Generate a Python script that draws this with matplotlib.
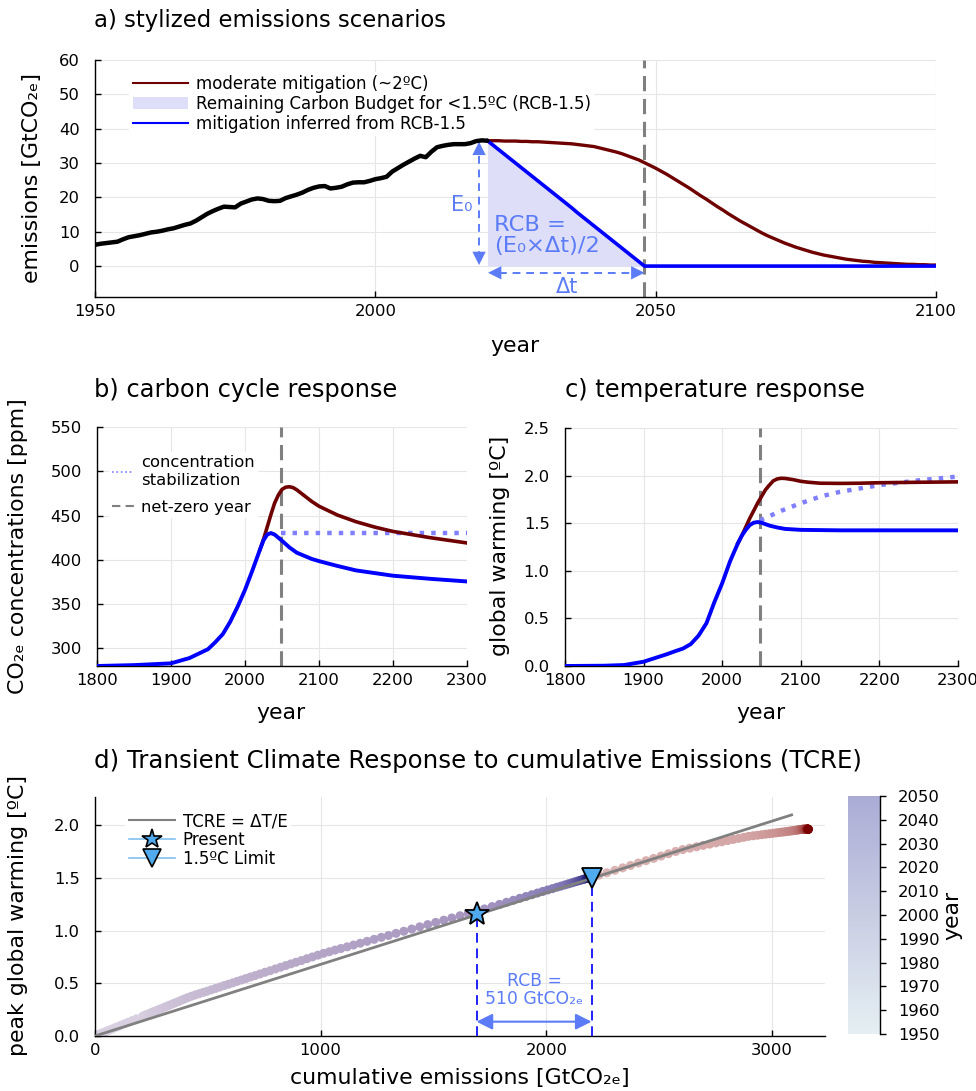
import numpy as np
import matplotlib
matplotlib.use("Agg")
import matplotlib.pyplot as plt
from matplotlib.colors import LinearSegmentedColormap, Normalize
from matplotlib.cm import ScalarMappable
from matplotlib.lines import Line2D
from matplotlib.patches import Patch

plt.rcParams['font.family'] = ['DejaVu Sans', 'Noto Sans']

W, H = 976, 1091

# ---------------- data ----------------
# a) emissions [GtCO2e / yr]
hist_years = np.arange(1950, 2021)
hist_emis = [6.2, 6.5, 6.7, 6.9, 7.1, 7.8, 8.4, 8.7, 9.0, 9.4,
             9.8, 10.0, 10.3, 10.7, 11.0, 11.5, 12.0, 12.4, 13.2, 14.2,
             15.2, 16.0, 16.7, 17.3, 17.2, 17.1, 18.2, 18.8, 19.4, 19.7,
             19.5, 19.0, 18.9, 19.0, 19.8, 20.3, 20.8, 21.4, 22.2, 22.8,
             23.2, 23.3, 22.6, 22.8, 23.1, 23.8, 24.3, 24.4, 24.4, 24.8,
             25.3, 25.6, 26.0, 27.5, 28.5, 29.5, 30.4, 31.3, 32.1, 31.7,
             33.3, 34.6, 35.0, 35.3, 35.5, 35.5, 35.5, 35.8, 36.4, 36.6,
             36.5]
mod_years = np.arange(2020, 2101)
mod_emis = [36.5, 36.5, 36.5, 36.4, 36.4, 36.4, 36.3, 36.3, 36.2, 36.2,
            36.1, 36.0, 35.9, 35.8, 35.7, 35.6, 35.4, 35.2, 35.0, 34.8,
            34.4, 34.0, 33.6, 33.2, 32.7, 32.1, 31.5, 30.9, 30.1, 29.3,
            28.5, 27.6, 26.7, 25.7, 24.7, 23.7, 22.7, 21.6, 20.5, 19.5,
            18.4, 17.3, 16.3, 15.2, 14.2, 13.2, 12.3, 11.4, 10.5, 9.6,
            8.8, 8.1, 7.4, 6.7, 6.1, 5.5, 5.0, 4.5, 4.0, 3.6,
            3.2, 2.9, 2.6, 2.3, 2.0, 1.8, 1.6, 1.4, 1.3, 1.1,
            1.0, 0.9, 0.8, 0.7, 0.6, 0.5, 0.5, 0.4, 0.4, 0.3, 0.3]
rcb_years = np.arange(2020, 2049)
rcb_emis = [36.5, 35.2, 33.9, 32.6, 31.3, 30.0, 28.7, 27.4, 26.1, 24.8,
            23.5, 22.2, 20.9, 19.6, 18.3, 17.0, 15.6, 14.3, 13.0, 11.7,
            10.4, 9.1, 7.8, 6.5, 5.2, 3.9, 2.6, 1.3, 0.0]
netzero_year = 2048

# b) CO2e concentrations [ppm]
conc_years = [1800, 1850, 1900, 1925, 1950, 1960, 1970, 1980, 1990, 2000,
              2010, 2020, 2025, 2030, 2035, 2040, 2045, 2050, 2060, 2070,
              2080, 2090, 2100, 2125, 2150, 2175, 2200, 2250, 2300]
conc_rcb = [280, 281, 283, 289, 299, 307, 316, 330, 347, 366,
            388, 411, 422, 428.5, 430.2, 428.5, 425, 421.5, 414, 408,
            404.5, 401, 398.5, 393, 388, 385, 382, 378.5, 375.5]
conc_mod_years = [2020, 2025, 2030, 2035, 2040, 2045, 2050, 2055, 2060, 2065,
                  2070, 2080, 2090, 2100, 2125, 2150, 2175, 2200, 2250, 2300]
conc_mod = [411, 423, 437, 451, 464, 473, 479.5, 482, 482.5, 481.5,
            479, 472.5, 466, 460.5, 450.5, 443, 437, 432, 425, 419]
conc_stab_years = [2048, 2300]
conc_stab = [430.2, 430.2]

# c) global warming [ºC]
temp_years = [1800, 1850, 1875, 1900, 1915, 1930, 1940, 1950, 1960, 1970,
              1980, 1990, 2000, 2010, 2020, 2025, 2030, 2035, 2040, 2045,
              2050, 2055, 2060, 2070, 2080, 2100, 2150, 2200, 2250, 2300]
temp_rcb = [0.0, 0.003, 0.01, 0.045, 0.085, 0.125, 0.155, 0.183, 0.23, 0.32,
            0.45, 0.67, 0.87, 1.10, 1.29, 1.37, 1.43, 1.48, 1.505, 1.512,
            1.505, 1.49, 1.475, 1.455, 1.44, 1.43, 1.425, 1.425, 1.425, 1.425]
temp_mod_years = [2020, 2025, 2030, 2035, 2040, 2045, 2050, 2055, 2060, 2065,
                  2070, 2075, 2080, 2090, 2100, 2110, 2125, 2150, 2175, 2200,
                  2250, 2300]
temp_mod = [1.29, 1.37, 1.46, 1.55, 1.63, 1.71, 1.78, 1.85, 1.90, 1.945,
            1.965, 1.972, 1.97, 1.958, 1.94, 1.93, 1.92, 1.918, 1.92, 1.925,
            1.93, 1.934]
temp_stab_years = [2048, 2075, 2100, 2125, 2150, 2200, 2250, 2300]
temp_stab = [1.53, 1.63, 1.71, 1.78, 1.83, 1.90, 1.95, 1.99]

# d) TCRE
pre1950_cum = 205.0
early_years = np.arange(1850, 1950, 5)
early_cum = [0, 2, 4, 7, 10, 14, 19, 25, 32, 40,
             49, 60, 73, 87, 101, 116, 132, 148, 165, 184]
early_warm = [0.0, 0.002, 0.004, 0.006, 0.009, 0.012, 0.017, 0.022, 0.028, 0.035,
              0.043, 0.053, 0.065, 0.077, 0.089, 0.103, 0.117, 0.131, 0.146, 0.163]
hist_peak_warm = [0.187, 0.193, 0.199, 0.205, 0.211, 0.218, 0.226, 0.233, 0.241, 0.250,
                  0.258, 0.267, 0.276, 0.286, 0.295, 0.306, 0.316, 0.327, 0.339, 0.352,
                  0.365, 0.378, 0.390, 0.402, 0.414, 0.425, 0.438, 0.451, 0.465, 0.479,
                  0.492, 0.505, 0.519, 0.532, 0.546, 0.560, 0.574, 0.589, 0.605, 0.620,
                  0.637, 0.653, 0.669, 0.685, 0.701, 0.717, 0.734, 0.751, 0.768, 0.785,
                  0.800, 0.816, 0.831, 0.847, 0.864, 0.881, 0.899, 0.918, 0.937, 0.955,
                  0.975, 0.995, 1.016, 1.037, 1.058, 1.079, 1.100, 1.121, 1.142, 1.164,
                  1.185]
rcb_peak_warm = [1.207, 1.229, 1.250, 1.270, 1.289, 1.308, 1.325, 1.342, 1.358, 1.373,
                 1.387, 1.400, 1.413, 1.424, 1.435, 1.445, 1.454, 1.463, 1.470, 1.477,
                 1.483, 1.488, 1.492, 1.495, 1.497, 1.499, 1.500, 1.500]
mod_dot_first = 2034
mod_peak_warm = [1.503, 1.527, 1.550, 1.574, 1.597, 1.620, 1.643, 1.665, 1.687, 1.709,
                 1.731, 1.753, 1.771, 1.784, 1.797, 1.810, 1.822, 1.834, 1.845, 1.856,
                 1.867, 1.877, 1.887, 1.896, 1.902, 1.907, 1.912, 1.917, 1.921, 1.925,
                 1.929, 1.933, 1.936, 1.939, 1.942, 1.945, 1.947, 1.950, 1.952, 1.954,
                 1.956, 1.958, 1.960, 1.961, 1.962, 1.963, 1.964] + [1.964] * 20
present_warm = 1.16
limit_warm = 1.50
rcb_budget = 510
tcre_cum = [0, 3087]
tcre_warm = [0, 2.10]

# ---------------- colours ----------------
C_RED = '#6e0000'
C_BLUE = '#0000ff'
C_ANN = '#5b7cf6'
C_GRAY = '#808080'
C_STAB = '#8080ff'
C_FILL = '#dedef9'
C_MARK = '#50aaee'

FS_TICK = 11.8
FS_LAB = 15.8
FS_LEG = 12.0

# ---------------- derived cumulative emissions ----------------
hist_cum = pre1950_cum + np.cumsum(hist_emis)
rcb_cum = hist_cum[-1] + np.cumsum(rcb_emis[1:])
mod_cum = hist_cum[-1] + np.cumsum(mod_emis[1:])
sel = mod_years[1:] >= mod_dot_first
present_cum = hist_cum[-1]
limit_cum = present_cum + rcb_budget

dots_years = np.concatenate([early_years, hist_years, rcb_years[1:]])
dots_cum = np.concatenate([early_cum, hist_cum, rcb_cum])
dots_warm = np.concatenate([early_warm, hist_peak_warm, rcb_peak_warm])


def fx(px):
    return px / W


def fy(py):
    return 1 - py / H


def style(ax):
    for s in ['top', 'right']:
        ax.spines[s].set_visible(False)
    for s in ['left', 'bottom']:
        ax.spines[s].set_linewidth(1.0)
    ax.grid(True, color='#e6e6e6', lw=0.8)
    ax.set_axisbelow(True)
    ax.tick_params(direction='in', length=4, labelsize=FS_TICK, width=1)
    ax.tick_params(axis='x', pad=5)
    ax.tick_params(axis='y', pad=11)


fig = plt.figure(figsize=(W / 100, H / 100), dpi=100)

# ================= a) =================
ax_a = fig.add_axes([fx(95), fy(297), fx(936 - 95), (297 - 60) / H])
style(ax_a)
ax_a.fill_between(rcb_years, rcb_emis, 0, color=C_FILL, lw=0, zorder=1)
ax_a.axvline(netzero_year, color=C_GRAY, lw=2.2, ls=(0, (5, 2.5)), zorder=2)
ax_a.plot(mod_years, mod_emis, color=C_RED, lw=2.4, zorder=3)
ax_a.plot(np.append(rcb_years, 2100), np.append(rcb_emis, 0.0),
          color=C_BLUE, lw=2.6, zorder=4)
ax_a.plot(hist_years, hist_emis, color='black', lw=3.2, zorder=5,
          solid_capstyle='round')

# annotation arrows
x_e0 = 2018.5
ax_a.plot([x_e0, x_e0], [2, 34], color=C_ANN, lw=1.4, ls=(0, (4, 3)))
for y0, y1 in [(30, 36.2), (6, 0.3)]:
    ax_a.annotate('', xy=(x_e0, y1), xytext=(x_e0, y0),
                  arrowprops=dict(arrowstyle='-|>', mutation_scale=24,
                                  color=C_ANN, lw=0, shrinkA=0, shrinkB=0))
y_dt = -1.95
ax_a.plot([2022, 2046], [y_dt, y_dt], color=C_ANN, lw=1.4, ls=(0, (4, 3)))
for x0, x1 in [(2025, 2020.1), (2043, netzero_year)]:
    ax_a.annotate('', xy=(x1, y_dt), xytext=(x0, y_dt),
                  arrowprops=dict(arrowstyle='-|>', mutation_scale=24,
                                  color=C_ANN, lw=0, shrinkA=0, shrinkB=0))
ax_a.text(2017.4, 17.8, 'E₀', color=C_ANN, fontsize=15, ha='right', va='center')
ax_a.text(2021.2, 8.8, 'RCB =\n(E₀×Δt)/2', color=C_ANN, fontsize=16.2,
          ha='left', va='center', linespacing=1.05)
ax_a.text(2034.1, -6.0, 'Δt', color=C_ANN, fontsize=15, ha='center', va='center')

ax_a.set_xlim(1950, 2100)
ax_a.set_ylim(-9, 60)
ax_a.set_xticks([1950, 2000, 2050, 2100])
ax_a.set_yticks(range(0, 61, 10))
leg_a = [Line2D([], [], color=C_RED, lw=1.5),
         Patch(facecolor=C_FILL, edgecolor='none'),
         Line2D([], [], color=C_BLUE, lw=1.5)]
ax_a.legend(leg_a, ['moderate mitigation (~2ºC)',
                    'Remaining Carbon Budget for <1.5ºC (RCB-1.5)',
                    'mitigation inferred from RCB-1.5'],
            loc='upper left', bbox_to_anchor=(0.031, 0.985), fontsize=FS_LEG,
            frameon=True, facecolor='white', edgecolor='none', framealpha=1,
            handlelength=3.3, handletextpad=0.5, labelspacing=0.1,
            borderpad=0.2, fancybox=False)

# ================= b) =================
ax_b = fig.add_axes([fx(97), fy(666), fx(467 - 97), (666 - 427) / H])
style(ax_b)
ax_b.axvline(netzero_year, color=C_GRAY, lw=2.2, ls=(0, (5, 2.5)), zorder=2)
ax_b.plot(conc_stab_years, conc_stab, color=C_STAB, lw=3.2, ls=(0, (1, 1.6)), zorder=3)
ax_b.plot(conc_mod_years, conc_mod, color=C_RED, lw=2.6, zorder=4)
ax_b.plot(conc_years, conc_rcb, color=C_BLUE, lw=2.8, zorder=5)
ax_b.set_xlim(1800, 2300)
ax_b.set_ylim(280, 550)
ax_b.set_xticks(range(1800, 2301, 100))
ax_b.set_yticks(range(300, 551, 50))
leg_b = [Line2D([], [], color=C_STAB, lw=1.2, ls=':'),
         Line2D([], [], color=C_GRAY, lw=1.5, ls=(0, (4, 2.5)))]
ax_b.legend(leg_b, ['concentration\nstabilization', 'net-zero year'],
            loc='upper left', bbox_to_anchor=(0.01, 0.93), fontsize=11.8,
            frameon=True, facecolor='white', edgecolor='none', framealpha=1,
            handlelength=1.35, handletextpad=0.4, labelspacing=0.75,
            borderpad=0.2, fancybox=False)

# ================= c) =================
ax_c = fig.add_axes([fx(565), fy(666), fx(958 - 565), (666 - 428) / H])
style(ax_c)
ax_c.axvline(netzero_year, color=C_GRAY, lw=2.2, ls=(0, (5, 2.5)), zorder=2)
ax_c.plot(temp_stab_years, temp_stab, color=C_STAB, lw=3.2, ls=(0, (1, 1.6)), zorder=3)
ax_c.plot(temp_mod_years, temp_mod, color=C_RED, lw=2.6, zorder=4)
ax_c.plot(temp_years, temp_rcb, color=C_BLUE, lw=2.8, zorder=5)
ax_c.set_xlim(1800, 2300)
ax_c.set_ylim(0, 2.5)
ax_c.set_xticks(range(1800, 2301, 100))
ax_c.set_yticks(np.arange(0, 2.51, 0.5))
ax_c.yaxis.set_major_formatter('{x:.1f}')

# ================= d) =================
ax_d = fig.add_axes([fx(95), fy(1036), fx(825 - 95), (1036 - 797) / H])
style(ax_d)
cm_rcb = LinearSegmentedColormap.from_list(
    'rcbdots', [(0, '#d8cfe0'), (0.45, '#b8a8c8'), (0.72, '#a595bf'),
                (0.87, '#7e74b3'), (1.0, '#1e1e78')])
cm_mod = LinearSegmentedColormap.from_list(
    'moddots', [(0, '#dcb6b6'), (0.35, '#d3a4a4'), (0.6, '#c07c7c'),
                (0.8, '#a03a3a'), (1.0, '#7a0000')])
ax_d.scatter(mod_cum[sel], mod_peak_warm, c=mod_years[1:][sel], cmap=cm_mod,
             vmin=mod_dot_first, vmax=2100, s=42, lw=0, zorder=2)
ax_d.scatter(dots_cum, dots_warm, c=dots_years, cmap=cm_rcb,
             vmin=1950, vmax=netzero_year, s=42, lw=0, zorder=2)
ax_d.plot(tcre_cum, tcre_warm, color=C_GRAY, lw=2.0, zorder=3)
ax_d.plot([present_cum, present_cum], [0, present_warm], color='#2020ff',
          lw=1.4, ls=(0, (5, 3)), zorder=3)
ax_d.plot([limit_cum, limit_cum], [0, limit_warm], color='#2020ff',
          lw=1.4, ls=(0, (5, 3)), zorder=3)
ax_d.annotate('', xy=(present_cum, 0.136), xytext=(limit_cum, 0.136),
              arrowprops=dict(arrowstyle='<|-|>', mutation_scale=24, color=C_ANN,
                              lw=1.5, shrinkA=0, shrinkB=0), zorder=4)
ax_d.text((present_cum + limit_cum) / 2, 0.44, 'RCB =\n%d GtCO₂ₑ' % rcb_budget,
          color=C_ANN, fontsize=12.4, ha='center', va='center', linespacing=1.0)
ax_d.plot(present_cum, present_warm, marker='*', ms=18, mfc=C_MARK, mec='black',
          mew=1.3, ls='none', zorder=6)
ax_d.plot(limit_cum, limit_warm, marker='v', ms=15, mfc=C_MARK, mec='black',
          mew=1.3, ls='none', zorder=6)
ax_d.set_xlim(0, 3235)
ax_d.set_ylim(0, 2.27)
ax_d.set_xticks([0, 1000, 2000, 3000])
ax_d.set_yticks(np.arange(0, 2.01, 0.5))
ax_d.yaxis.set_major_formatter('{x:.1f}')
leg_d = [Line2D([], [], color=C_GRAY, lw=1.5),
         Line2D([], [], color='#80c0f0', lw=1.2, marker='*', ms=15,
                mfc=C_MARK, mec='black', mew=1.2),
         Line2D([], [], color='#80c0f0', lw=1.2, marker='v', ms=13,
                mfc=C_MARK, mec='black', mew=1.2)]
ax_d.legend(leg_d, ['TCRE = ΔT/E', 'Present', '1.5ºC Limit'],
            loc='upper left', bbox_to_anchor=(0.03, 0.985), fontsize=FS_LEG,
            frameon=True, facecolor='white', edgecolor='none', framealpha=1,
            handlelength=2.8, handletextpad=0.45, labelspacing=0.05,
            borderpad=0.2, fancybox=False)

# colorbar (year)
cax = fig.add_axes([fx(848), fy(1034), fx(880 - 848), (1034 - 796) / H])
cb_cmap = LinearSegmentedColormap.from_list('cb', ['#e5eff3', '#c9cde3', '#abacd6'])
cbar = fig.colorbar(ScalarMappable(norm=Normalize(1950, 2050), cmap=cb_cmap),
                    cax=cax, ticks=range(1950, 2051, 10))
cbar.outline.set_visible(False)
cax.tick_params(labelsize=FS_TICK, length=4, width=1, direction='out', pad=9)
cax.plot([1, 1], [0, 1], transform=cax.transAxes, color='black', lw=1.0,
         clip_on=False)

# ---------------- titles and axis labels ----------------
tit = dict(ha='left', va='center')
fig.text(fx(94), fy(20), 'a) stylized emissions scenarios', fontsize=16.4, **tit)
fig.text(fx(94), fy(390), 'b) carbon cycle response', fontsize=17.4, **tit)
fig.text(fx(565), fy(390), 'c) temperature response', fontsize=17.4, **tit)
fig.text(fx(94), fy(761),
         'd) Transient Climate Response to cumulative Emissions (TCRE)',
         fontsize=17.6, **tit)

lab = dict(fontsize=FS_LAB, ha='center', va='center')
fig.text(fx(515), fy(346), 'year', **lab)
fig.text(fx(32), fy(178), 'emissions [GtCO₂ₑ]', rotation=90, **lab)
fig.text(fx(281), fy(713), 'year', **lab)
fig.text(fx(18), fy(546), 'CO₂ₑ concentrations [ppm]', rotation=90, **lab)
fig.text(fx(761), fy(713), 'year', **lab)
fig.text(fx(500), fy(546), 'global warming [ºC]', rotation=90, **lab)
fig.text(fx(460), fy(1078), 'cumulative emissions [GtCO₂ₑ]', **lab)
fig.text(fx(18), fy(916), 'peak global warming [ºC]', rotation=90, **lab)
fig.text(fx(952), fy(915), 'year', rotation=90, **lab)

fig.savefig('out.png', dpi=100)
